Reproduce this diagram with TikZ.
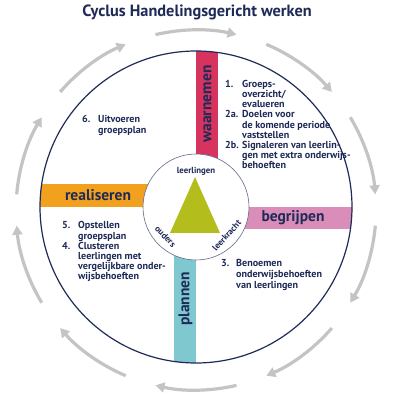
\documentclass[tikz,border=0pt]{standalone}
\usepackage{fontspec}
\setmainfont{PT Sans}
\usetikzlibrary{arrows.meta,calc}
\definecolor{navy}{HTML}{1E2A57}
\definecolor{ringgray}{HTML}{C4C4C4}
\definecolor{wcol}{HTML}{D6335E}
\definecolor{bcol}{HTML}{DA8DB9}
\definecolor{pcol}{HTML}{80C8D0}
\definecolor{rcol}{HTML}{F2A11F}
\definecolor{tricol}{HTML}{B3BD1C}
\tikzset{
  ringarrow/.style={line width=3.2pt, draw=ringgray, -{Triangle[length=9pt,width=10pt]}},
  barlabel/.style={font=\bfseries\fontsize{15.5}{17}\selectfont, text=navy, inner sep=0pt},
  blocktext/.style={font=\bfseries\fontsize{10.1}{10.1}\selectfont, text=navy, inner sep=0pt, anchor=north west, align=left},
  blocktextb/.style={font=\bfseries\fontsize{10.1}{11}\selectfont, text=navy, inner sep=0pt, anchor=north west, align=left},
  innerlabel/.style={font=\bfseries\fontsize{8.8}{9}\selectfont, text=navy, inner sep=0pt},
}
\begin{document}
\begin{tikzpicture}[x=1pt,y=1pt]
\useasboundingbox (0,0) rectangle (400,400);
\fill[white] (0,0) rectangle (400,400);
\coordinate (O) at (196,193);
\coordinate (R) at (196,190);

% title
\node[font=\bfseries\fontsize{16.3}{18}\selectfont, text=navy, inner sep=0pt] (title) at (197,388) {Cyclus Handelingsgericht werken};

% outer ring of arrows
\foreach \c in {90,54,18,-18,-54,-90,-126,-162,162,126} {
  \draw[ringarrow] ($(R)+(\c+13:180)$) arc[start angle=\c+13, end angle=\c-13, radius=180];
}

% bars clipped to main circle
\begin{scope}
  \clip (O) circle (156);
  \fill[wcol] (196,193) rectangle (218,360);
  \fill[bcol] (196,171) rectangle (360,193);
  \fill[pcol] (174,193) rectangle (196,30);
  \fill[rcol] (30,193) rectangle (196,216);
\end{scope}

% main circle
\draw[line width=1.2pt, draw=navy] (O) circle (156);
% inner circle
\draw[line width=0.6pt, draw=navy!70, fill=white] (O) circle (53);

% triangle
\fill[tricol] (195,223) -- (220,167) -- (170,167) -- cycle;

% inner labels
\node[innerlabel] (lln) at ($(O)+(90:35.5)$) {leerlingen};
\node[innerlabel, rotate=-46] (oud) at ($(O)+(-136:42.5)$) {ouders};
\node[innerlabel, rotate=48] (lkr) at ($(O)+(-43:42)$) {leerkracht};

% bar labels
\node[barlabel, rotate=90] (wn) at (207.5,296) {waarnemen};
\node[barlabel] (bg) at (293,182) {begrijpen};
\node[barlabel, rotate=90] (pl) at (185.5,101) {plannen};
\node[barlabel] (rs) at (98,205) {realiseren};

% text blocks
\node[blocktext] (t1) at (225,320) {\begin{tabular}{@{}p{17pt}@{}l@{}}
1. & Groeps-\\
 & overzicht/\\
 & evalueren\\
2a. & Doelen voor\\
 & de komende periode\\
 & vaststellen\\
2b. & Signaleren van leerlin-\\
 & gen met extra onderwijs-\\
 & behoeften
\end{tabular}};

\node[blocktextb] (t6) at (82,285) {\begin{tabular}{@{}p{16pt}@{}l@{}}
6. & Uitvoeren\\
 & groepsplan
\end{tabular}};

\node[blocktext] (t5) at (62,178.5) {\begin{tabular}{@{}p{16pt}@{}l@{}}
5. & Opstellen\\
 & groepsplan\\
4. & Clusteren\\
 & leerlingen met\\
 & vergelijkbare onder-\\
 & wijsbehoeften
\end{tabular}};

\node[blocktextb] (t3) at (221,141) {\begin{tabular}{@{}p{15pt}@{}l@{}}
3. & Benoemen\\
 & onderwijsbehoeften\\
 & van leerlingen
\end{tabular}};
\end{tikzpicture}
\end{document}
